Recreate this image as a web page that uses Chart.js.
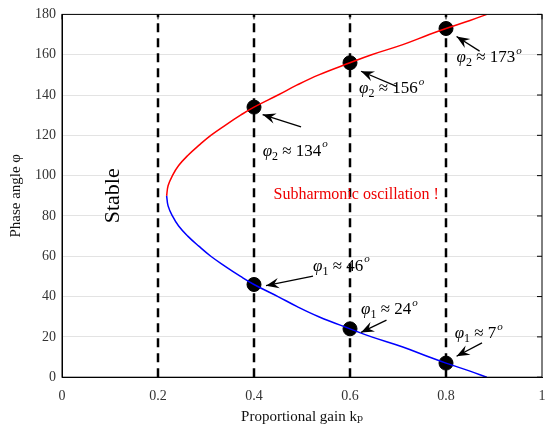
<!DOCTYPE html>
<html><head><script src="https://cdn.jsdelivr.net/npm/chart.js@4"></script>
<style>body{margin:0;background:#fff}#w{width:550px;height:442px}</style></head>
<body><div id="w"><canvas id="c"></canvas></div>
<script>
const phiLower=[0,3,7,10,15,20,24,30,35,40,46,50,55,60,65,70,75,80,85,90];
const kLower=[0.885,0.85,0.8,0.765,0.71,0.645,0.6,0.535,0.49,0.45,0.4,0.372,0.34,0.31,0.285,0.262,0.243,0.23,0.221,0.218];
const markK=[0.4,0.6,0.8,0.4,0.6,0.8];
const markPhi=[134,156,173,46,24,7];
const dashK=[0.2,0.4,0.6,0.8];
const subs=["2","2","2","1","1","1"];
const vals=["134","156","173","46","24","7"];
const xTicks=[0,0.2,0.4,0.6,0.8,1];
const yTicks=[0,20,40,60,80,100,120,140,160,180];
const lower=phiLower.map((p,i)=>({x:kLower[i],y:p}));
const upper=phiLower.map((p,i)=>({x:kLower[i],y:180-p})).reverse();
const F='"Liberation Serif","DejaVu Serif",serif';
const ann=[
 {tx:0.418,ty:112,ax1:0.498,ay1:124.2,ax2:0.418,ay2:130.3},
 {tx:0.619,ty:143,ax1:0.697,ay1:144.3,ax2:0.623,ay2:151.8},
 {tx:0.822,ty:158.5,ax1:0.870,ay1:161.8,ax2:0.822,ay2:169},
 {tx:0.523,ty:55,ax1:0.523,ay1:50.2,ax2:0.425,ay2:45.4},
 {tx:0.623,ty:33.5,ax1:0.676,ay1:28.3,ax2:0.623,ay2:22.2},
 {tx:0.818,ty:21.5,ax1:0.875,ay1:17,ax2:0.822,ay2:10.4}
];
const plug={id:'p',afterDatasetsDraw(ch){
 const c=ch.ctx,x=ch.scales.x,y=ch.scales.y,a=ch.chartArea;
 c.save();
 c.strokeStyle='#000';c.lineWidth=1;c.strokeRect(a.left,a.top,a.right-a.left,a.bottom-a.top);
 yTicks.forEach(t=>{const py=y.getPixelForValue(t);c.beginPath();c.moveTo(a.right,py);c.lineTo(a.right-5,py);c.stroke();});
 xTicks.forEach(t=>{const px=x.getPixelForValue(t);c.beginPath();c.moveTo(px,a.top);c.lineTo(px,a.top+5);c.stroke();});
 c.fillStyle='#000';c.textBaseline='middle';c.textAlign='left';
 ann.forEach((o,i)=>{
  let tx=x.getPixelForValue(o.tx), ty=y.getPixelForValue(o.ty);
  c.font='italic 17px '+F;c.fillText('φ',tx,ty);let w=c.measureText('φ').width;
  c.font='12px '+F;c.fillText(subs[i],tx+w,ty+5);w+=c.measureText(subs[i]).width;
  c.font='17px '+F;const s=' ≈ '+vals[i];c.fillText(s,tx+w,ty);w+=c.measureText(s).width;
  c.font='italic 11px '+F;c.fillText('o',tx+w+1,ty-7);
  const x1=x.getPixelForValue(o.ax1),y1=y.getPixelForValue(o.ay1),x2=x.getPixelForValue(o.ax2),y2=y.getPixelForValue(o.ay2);
  c.beginPath();c.moveTo(x1,y1);c.lineTo(x2,y2);c.lineWidth=1.3;c.stroke();
  const ang=Math.atan2(y2-y1,x2-x1),L=14;
  c.beginPath();c.moveTo(x2,y2);
  c.lineTo(x2-L*Math.cos(ang-0.38),y2-L*Math.sin(ang-0.38));
  c.lineTo(x2-0.6*L*Math.cos(ang),y2-0.6*L*Math.sin(ang));
  c.lineTo(x2-L*Math.cos(ang+0.38),y2-L*Math.sin(ang+0.38));c.closePath();c.fill();
 });
 c.textAlign='center';
 c.fillStyle='#e00';c.font='16px '+F;
 c.fillText('Subharmonic oscillation !',x.getPixelForValue(0.613),y.getPixelForValue(90.7));
 c.fillStyle='#000';c.font='22px '+F;
 c.translate(x.getPixelForValue(0.107),y.getPixelForValue(90));c.rotate(-Math.PI/2);c.fillText('Stable',0,0);
 c.restore();
}};
const ds=[
 {data:lower,borderColor:'#0000ff',borderWidth:1.5,showLine:true,pointRadius:0,tension:0.4},
 {data:upper,borderColor:'#ff0000',borderWidth:1.5,showLine:true,pointRadius:0,tension:0.4}
];
dashK.forEach(k=>ds.push({data:[{x:k,y:0},{x:k,y:180}],borderColor:'#000',borderWidth:2.5,borderDash:[9,6],showLine:true,pointRadius:0}));
ds.push({data:markK.map((k,i)=>({x:k,y:markPhi[i]})),showLine:false,pointRadius:7,backgroundColor:'#000',borderColor:'#000'});
new Chart(document.getElementById('c'),{type:'scatter',data:{datasets:ds},plugins:[plug],
 options:{responsive:true,maintainAspectRatio:false,animation:false,
  layout:{padding:{top:0,right:8,left:3,bottom:12}},
  plugins:{legend:{display:false},tooltip:{enabled:false}},
  scales:{
   x:{type:'linear',min:0,max:1,afterBuildTicks:s=>{s.ticks=xTicks.map(v=>({value:v}))},
     grid:{display:false},border:{color:'#000'},
     ticks:{color:'#333',font:{family:F,size:14},callback:v=>String(v)},
     title:{display:true,text:'Proportional gain kₚ',color:'#111',font:{family:F,size:15},padding:{top:0}}},
   y:{min:0,max:180,afterBuildTicks:s=>{s.ticks=yTicks.map(v=>({value:v}))},
     grid:{color:'#e3e3e3',tickLength:0},border:{color:'#000'},
     ticks:{color:'#333',font:{family:F,size:14},padding:6},
     title:{display:true,text:'Phase angle φ',color:'#111',font:{family:F,size:15}}}
  }}});
</script></body></html>
